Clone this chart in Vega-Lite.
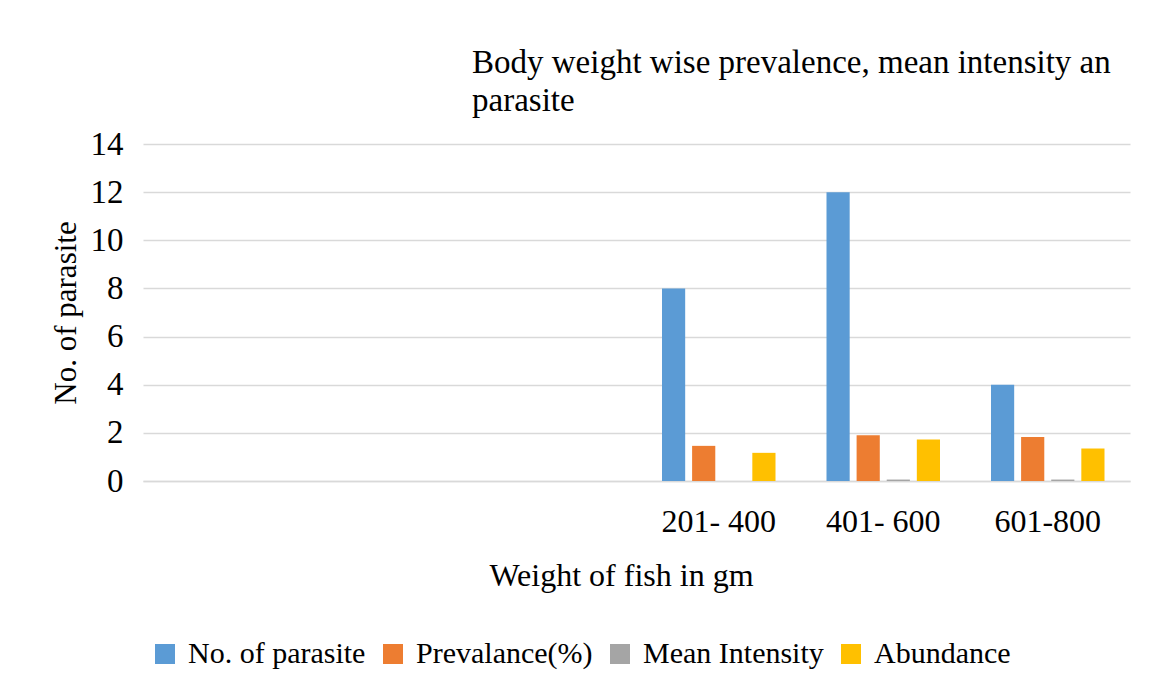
{
  "$schema": "https://vega.github.io/schema/vega-lite/v6.json",
  "width": 987,
  "height": 337,
  "autosize": {"type": "none"},
  "padding": {"left": 143, "top": 144, "right": 40, "bottom": 215},
  "background": "white",
  "title": {
    "text": ["Body weight wise prevalence, mean intensity an", "parasite"],
    "anchor": "start",
    "frame": "group",
    "dx": 329,
    "offset": 10,
    "font": "Liberation Serif",
    "fontSize": 33,
    "fontWeight": "normal",
    "lineHeight": 38,
    "color": "#000000"
  },
  "data": {
    "values": [
      {"weight": "201- 400", "series": "No. of parasite", "value": 8},
      {"weight": "201- 400", "series": "Prevalance(%)", "value": 1.46},
      {"weight": "201- 400", "series": "Mean Intensity", "value": 0},
      {"weight": "201- 400", "series": "Abundance", "value": 1.17},
      {"weight": "401- 600", "series": "No. of parasite", "value": 12},
      {"weight": "401- 600", "series": "Prevalance(%)", "value": 1.9},
      {"weight": "401- 600", "series": "Mean Intensity", "value": 0.06},
      {"weight": "401- 600", "series": "Abundance", "value": 1.72},
      {"weight": "601-800", "series": "No. of parasite", "value": 4},
      {"weight": "601-800", "series": "Prevalance(%)", "value": 1.83},
      {"weight": "601-800", "series": "Mean Intensity", "value": 0.06},
      {"weight": "601-800", "series": "Abundance", "value": 1.35}
    ]
  },
  "mark": {"type": "bar"},
  "encoding": {
    "x": {
      "field": "weight",
      "type": "nominal",
      "scale": {"domain": [" ", "  ", "   ", "201- 400", "401- 600", "601-800"], "paddingInner": 0.31, "paddingOuter": 0.155},
      "axis": {
        "title": "Weight of fish in gm",
        "labelAngle": 0,
        "ticks": false,
        "domain": true,
        "domainColor": "#d9d9d9",
        "domainWidth": 1.5,
        "labelPadding": 25,
        "labelFont": "Liberation Serif",
        "labelFontSize": 32,
        "labelColor": "#000000",
        "titleFont": "Liberation Serif",
        "titleFontSize": 32,
        "titleFontWeight": "normal",
        "titleColor": "#000000",
        "titleX": 478,
        "titleY": 79,
        "titleAnchor": "middle"
      }
    },
    "xOffset": {
      "field": "series",
      "type": "nominal",
      "scale": {"domain": ["No. of parasite", "Prevalance(%)", "Mean Intensity", "Abundance"], "paddingInner": 0.23, "paddingOuter": 0}
    },
    "y": {
      "field": "value",
      "type": "quantitative",
      "scale": {"domain": [0, 14]},
      "axis": {
        "title": "No. of parasite",
        "values": [0, 2, 4, 6, 8, 10, 12, 14],
        "ticks": false,
        "domain": false,
        "gridColor": "#d9d9d9",
        "gridWidth": 1.5,
        "labelPadding": 20,
        "labelFont": "Liberation Serif",
        "labelFontSize": 33,
        "labelColor": "#000000",
        "titleFont": "Liberation Serif",
        "titleFontSize": 31,
        "titleFontWeight": "normal",
        "titleColor": "#000000",
        "titlePadding": 8
      }
    },
    "color": {
      "field": "series",
      "type": "nominal",
      "scale": {
        "domain": ["No. of parasite", "Prevalance(%)", "Mean Intensity", "Abundance"],
        "range": ["#5B9BD5", "#ED7D31", "#A5A5A5", "#FFC000"]
      },
      "legend": {
        "title": null,
        "orient": "none",
        "direction": "horizontal",
        "legendX": 7,
        "legendY": 495,
        "padding": 0,
        "symbolType": "square",
        "symbolSize": 400,
        "symbolStrokeWidth": 0,
        "symbolOpacity": 1,
        "labelFont": "Liberation Serif",
        "labelFontSize": 30,
        "labelColor": "#000000",
        "labelOffset": 8,
        "columnPadding": 12,
        "labelLimit": 400
      }
    }
  },
  "config": {
    "view": {"stroke": null}
  }
}
